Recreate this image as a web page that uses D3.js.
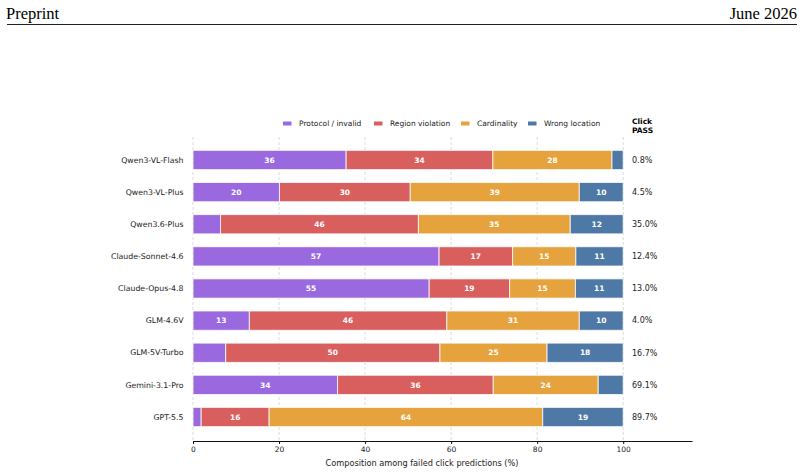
<!DOCTYPE html>
<html>
<head>
<meta charset="utf-8">
<script src="https://cdn.jsdelivr.net/npm/d3@7"></script>
<style>
  body { margin: 0; background: #fff; }
  svg { display: block; }
</style>
</head>
<body>
<div id="chart"></div>
<script>
// Data
const models = ["Qwen3-VL-Flash", "Qwen3-VL-Plus", "Qwen3.6-Plus", "Claude-Sonnet-4.6",
  "Claude-Opus-4.8", "GLM-4.6V", "GLM-5V-Turbo", "Gemini-3.1-Pro", "GPT-5.5"];
const categories = ["Protocol / invalid", "Region violation", "Cardinality", "Wrong location"];
const protocolInvalid = [35.6, 20.1, 6.4, 57.2, 54.9, 13.1, 7.6, 33.6, 1.9];
const regionViolation = [34.1, 30.4, 46.0, 17.1, 18.7, 45.9, 49.8, 36.2, 15.8];
const cardinality     = [27.7, 39.3, 35.3, 14.7, 15.3, 30.8, 24.9, 24.4, 63.6];
const wrongLocation   = [2.6, 10.2, 12.3, 11.0, 11.1, 10.2, 17.7, 5.8, 18.7];
const clickPass = ["0.8%", "4.5%", "35.0%", "12.4%", "13.0%", "4.0%", "16.7%", "69.1%", "89.7%"];
const xTicks = [0, 20, 40, 60, 80, 100];

const colors = d3.scaleOrdinal()
  .domain(categories)
  .range(["#9b69df", "#d95f5e", "#e6a23c", "#4e78a6"]);

const W = 804, H = 474;
const svg = d3.select("#chart").append("svg")
  .attr("width", W)
  .attr("height", H);

// page header
svg.append("text")
  .attr("x", 6).attr("y", 18.5)
  .style("font-family", "Liberation Serif, serif")
  .style("font-size", "16.5px")
  .text("Preprint");
svg.append("text")
  .attr("x", 797).attr("y", 18.5)
  .attr("text-anchor", "end")
  .style("font-family", "Liberation Serif, serif")
  .style("font-size", "16.5px")
  .text("June 2026");
svg.append("line")
  .attr("x1", 7).attr("x2", 797)
  .attr("y1", 24.5).attr("y2", 24.5)
  .attr("stroke", "#222")
  .attr("stroke-width", 1);

const font = "DejaVu Sans, sans-serif";

const x = d3.scaleLinear()
  .domain([0, 116])
  .range([193, 692]);

const y = d3.scaleBand()
  .domain(models)
  .range([137.5, 439.5])
  .padding(0.4);

// grid
svg.append("g")
  .selectAll("line")
  .data(xTicks)
  .enter()
  .append("line")
    .attr("x1", d => x(d)).attr("x2", d => x(d))
    .attr("y1", 137).attr("y2", 441)
    .attr("stroke", "#ccc")
    .attr("stroke-width", 0.7)
    .attr("stroke-dasharray", "3,2");

// stacked bars
const rows = models.map((m, i) => ({
  model: m,
  "Protocol / invalid": protocolInvalid[i],
  "Region violation": regionViolation[i],
  "Cardinality": cardinality[i],
  "Wrong location": wrongLocation[i]
}));
const series = d3.stack().keys(categories)(rows);

const layers = svg.append("g")
  .selectAll("g")
  .data(series)
  .enter()
  .append("g")
    .attr("fill", d => colors(d.key));

layers.selectAll("rect")
  .data(d => d)
  .enter()
  .append("rect")
    .attr("x", d => x(d[0]))
    .attr("y", d => y(d.data.model))
    .attr("width", d => x(d[1]) - x(d[0]))
    .attr("height", y.bandwidth())
    .attr("stroke", "#fff")
    .attr("stroke-opacity", 0.8)
    .attr("stroke-width", 1);

layers.selectAll("text")
  .data(d => d.filter(s => s[1] - s[0] >= 8))
  .enter()
  .append("text")
    .attr("x", d => x((d[0] + d[1]) / 2))
    .attr("y", d => y(d.data.model) + y.bandwidth() / 2)
    .attr("dy", "0.35em")
    .attr("text-anchor", "middle")
    .attr("fill", "#fff")
    .style("font-family", font)
    .style("font-size", "7.5px")
    .style("font-weight", "bold")
    .text(d => Math.round(d[1] - d[0]));

// model labels
svg.append("g")
  .selectAll("text")
  .data(models)
  .enter()
  .append("text")
    .attr("x", 183.5)
    .attr("y", d => y(d) + y.bandwidth() / 2)
    .attr("dy", "0.35em")
    .attr("text-anchor", "end")
    .attr("fill", "#222")
    .style("font-family", font)
    .style("font-size", "7.8px")
    .text(d => d);

// click pass column
svg.append("g")
  .selectAll("text")
  .data(models)
  .enter()
  .append("text")
    .attr("x", 632)
    .attr("y", (d, i) => y(d) + y.bandwidth() / 2)
    .attr("dy", "0.35em")
    .attr("fill", "#222")
    .style("font-family", font)
    .style("font-size", "8px")
    .text((d, i) => clickPass[i]);

const header = svg.append("text")
  .attr("x", 632)
  .attr("y", 124)
  .style("font-family", font)
  .style("font-size", "7.5px")
  .style("font-weight", "bold");
header.append("tspan").attr("x", 632).text("Click");
header.append("tspan").attr("x", 632).attr("dy", "8.5px").text("PASS");

// x axis
const xAxis = svg.append("g")
  .attr("transform", "translate(0,441)")
  .call(d3.axisBottom(x).tickValues(xTicks).tickSize(3).tickSizeOuter(0));
xAxis.select(".domain").attr("stroke", "#111").attr("stroke-width", 1.2);
xAxis.selectAll(".tick line").attr("stroke", "#111");
xAxis.selectAll(".tick text")
  .attr("fill", "#222")
  .style("font-family", font)
  .style("font-size", "7.5px");

svg.append("text")
  .attr("x", 422)
  .attr("y", 466)
  .attr("text-anchor", "middle")
  .attr("fill", "#222")
  .style("font-family", font)
  .style("font-size", "8.2px")
  .text("Composition among failed click predictions (%)");

// legend
const legendX = [283, 374, 461, 528];
const legend = svg.append("g");
categories.forEach((c, i) => {
  legend.append("rect")
    .attr("x", legendX[i])
    .attr("y", 121.5)
    .attr("width", 8.5)
    .attr("height", 4)
    .attr("fill", colors(c));
  legend.append("text")
    .attr("x", legendX[i] + 16)
    .attr("y", 123.5)
    .attr("dy", "0.35em")
    .attr("fill", "#222")
    .style("font-family", font)
    .style("font-size", "7.5px")
    .text(c);
});
</script>
</body>
</html>
